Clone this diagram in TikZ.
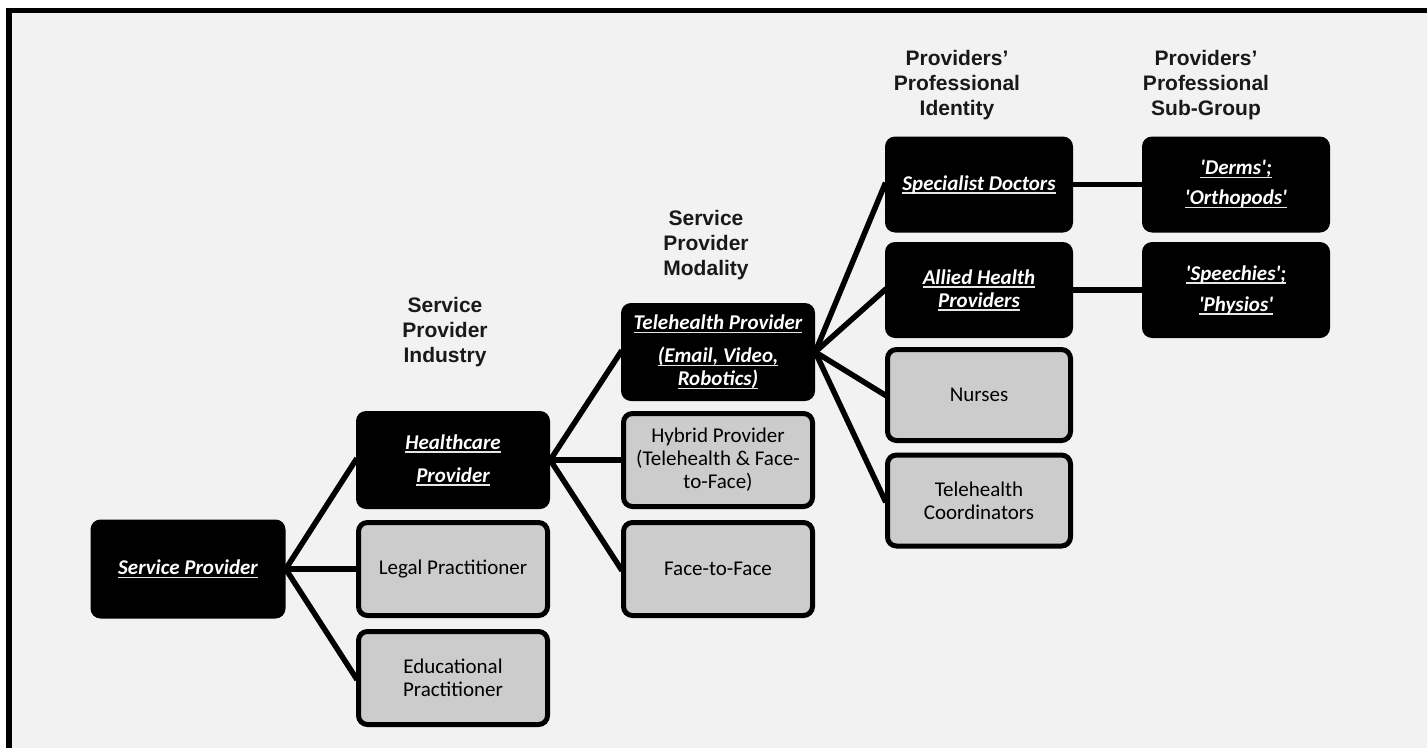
\documentclass[tikz,border=0pt]{standalone}
\usepackage{fontspec}
\setmainfont{Carlito}
\newfontfamily\hdrfont{Liberation Sans}
\definecolor{panel}{HTML}{F2F2F2}
\definecolor{boxgray}{HTML}{CCCCCC}
\definecolor{ulcol}{HTML}{E6E6E6}
% white underline drawn as a rule under the word
\newcommand\ulw[1]{\setbox0=\hbox{#1}\rlap{\textcolor{ulcol}{\rule[-3.5pt]{\wd0}{1.6pt}}}\box0}
\pgfdeclarelayer{back}
\pgfdeclarelayer{edges}
\pgfsetlayers{back,edges,main}
\begin{document}
\begin{tikzpicture}[x=1pt,y=-1pt,
  darkbox/.style={fill=black, text=white, rounded corners=10pt,
    minimum width=194pt, minimum height=98pt, inner sep=0pt, align=center,
    font=\fontsize{21}{23}\selectfont\bfseries\itshape},
  lightbox/.style={draw=black, line width=5pt, fill=boxgray, rounded corners=9pt,
    minimum width=189pt, minimum height=93pt, inner sep=0pt, align=center,
    font=\fontsize{21}{23}\selectfont},
  narrowdark/.style={darkbox, minimum width=188pt, minimum height=96pt},
  narrowlight/.style={lightbox, minimum width=183pt, minimum height=91pt},
  header/.style={align=center, inner sep=0pt, text=black!90,
    font=\hdrfont\fontsize{21}{25}\selectfont\bfseries},
  link/.style={line width=5.5pt, shorten <=-2pt, shorten >=-2pt}]

\useasboundingbox (0,0) rectangle (1427,747);
\begin{pgfonlayer}{back}
  \fill[white] (0,0) rectangle (1427,747);
  \begin{scope}
    \clip (0,0) rectangle (1427,747);
    \draw[line width=5.5pt, fill=panel] (9,10.5) rectangle (1445,765);
  \end{scope}
\end{pgfonlayer}

% column headers
\node[header] (hInd) at (445,332) {Service\\Provider\\Industry};
\node[header] (hMod) at (706,245) {Service\\Provider\\Modality};
\node[header] (hIde) at (957,85) {Providers’\\Professional\\Identity};
\node[header] (hSub) at (1206,85) {Providers’\\Professional\\Sub-Group};

% level 1
\node[darkbox, minimum width=195pt, minimum height=99pt] (sp) at (188,569) {\ulw{Service Provider}};

% level 2
\node[darkbox] (hp) at (453,460) {\ulw{Healthcare}\\[10pt]\ulw{Provider}};
\node[lightbox] (lp) at (453,569) {Legal Practitioner};
\node[lightbox] (ep) at (453,678) {Educational\\Practitioner};

% level 3
\node[darkbox] (tp) at (718,352) {\ulw{Telehealth Provider}\\[10pt]\ulw{(Email, Video,}\\\ulw{Robotics)}};
\node[lightbox] (hy) at (718,460) {Hybrid Provider\\(Telehealth \& Face-\\to-Face)};
\node[lightbox] (ff) at (718,569) {Face-to-Face};

% level 4
\node[narrowdark] (sd) at (979,184.5) {\ulw{Specialist Doctors}};
\node[narrowdark] (ah) at (979,290) {\ulw{Allied Health}\\\ulw{Providers}};
\node[narrowlight] (nu) at (979,395) {Nurses};
\node[narrowlight] (tc) at (979,500.5) {Telehealth\\Coordinators};

% level 5
\node[narrowdark] (de) at (1236,184.5) {\ulw{\textquotesingle Derms\textquotesingle;}\\[7pt]\ulw{\textquotesingle Orthopods\textquotesingle}};
\node[narrowdark] (sph) at (1236,290) {\ulw{\textquotesingle Speechies\textquotesingle;}\\[8pt]\ulw{\textquotesingle Physios\textquotesingle}};

% connectors
\begin{pgfonlayer}{edges}
  \foreach \c in {hp,lp,ep} \draw[link] (sp.east) -- (\c.west);
  \foreach \c in {tp,hy,ff} \draw[link] (hp.east) -- (\c.west);
  \foreach \c in {sd,ah,nu,tc} \draw[link] (tp.east) -- (\c.west);
  \draw[link] (sd.east) -- (de.west);
  \draw[link] (ah.east) -- (sph.west);
\end{pgfonlayer}
\end{tikzpicture}
\end{document}
